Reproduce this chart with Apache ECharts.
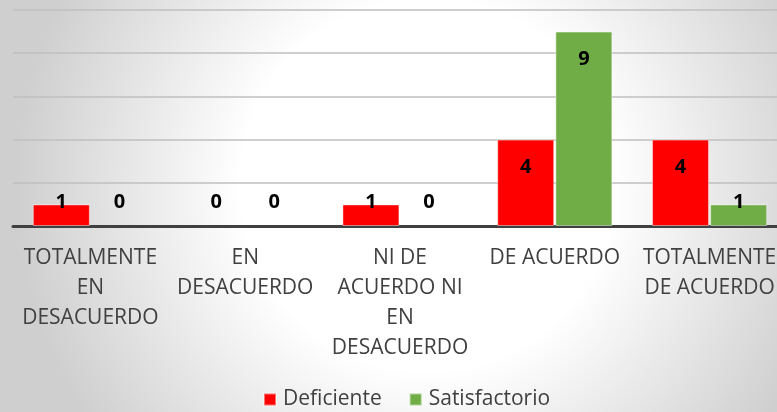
<!DOCTYPE html>
<html>
<head>
<meta charset="utf-8">
<style>
html, body { margin: 0; padding: 0; }
#chart { width: 777px; height: 412px; }
</style>
<script src="https://cdn.jsdelivr.net/npm/echarts@6/dist/echarts.min.js"></script>
</head>
<body>
<div id="chart"></div>
<script>
var categories = ['TOTALMENTE\nEN\nDESACUERDO', 'EN\nDESACUERDO', 'NI DE\nACUERDO NI\nEN\nDESACUERDO', 'DE ACUERDO', 'TOTALMENTE\nDE ACUERDO'];
var deficiente = [1, 0, 1, 4, 4];
var satisfactorio = [0, 0, 0, 9, 1];
var seriesNames = ['Deficiente', 'Satisfactorio'];
var colors = ['#ff0000', '#70ad47'];

var font = '"Open Sans", sans-serif';

// small bars get their label near the baseline, like the original
function withLabels(values) {
	return values.map(function (v) {
		var item = { value: v };
		if (v <= 1) {
			item.label = { position: 'insideBottom', distance: 14 };
		}
		if (v === 0) {
			item.itemStyle = { borderWidth: 0 };
		}
		return item;
	});
}

var chart = echarts.init(document.getElementById('chart'));

var option = {
	backgroundColor: {
		type: 'radial', x: 0.55, y: 0.45, r: 1.0,
		colorStops: [
			{ offset: 0, color: '#ffffff' },
			{ offset: 0.45, color: '#ffffff' },
			{ offset: 1, color: '#cfcfcf' }
		]
	},
	color: colors,
	animation: false,
	grid: { left: 13, right: -10, top: 10, bottom: 186, outerBoundsMode: 'none' },
	legend: {
		bottom: -3,
		left: 258,
		itemWidth: 12,
		itemHeight: 12,
		itemGap: 27,
		icon: 'rect',
		textStyle: { color: '#404040', fontSize: 21, fontFamily: font, padding: [0, 0, 0, 2] },
		data: seriesNames
	},
	xAxis: {
		type: 'category',
		data: categories,
		axisLine: { lineStyle: { color: '#404040', width: 3 } },
		axisTick: { show: false },
		axisLabel: {
			color: '#404040', fontSize: 21, fontFamily: font,
			lineHeight: 30, margin: 17, interval: 0
		}
	},
	yAxis: {
		type: 'value',
		min: 0,
		max: 10,
		interval: 2,
		axisLabel: { show: false },
		axisLine: { show: false },
		axisTick: { show: false },
		splitLine: { lineStyle: { color: '#bfbfbf', width: 1.5 } }
	},
	series: [
		{
			name: seriesNames[0],
			type: 'bar',
			barWidth: 57,
			barGap: '2%',
			itemStyle: { color: colors[0], borderColor: 'rgba(255,255,255,0.45)', borderWidth: 1 },
			label: {
				show: true, position: 'insideTop', distance: 18,
				color: '#000', fontSize: 20, fontWeight: 'bold', fontFamily: font
			},
			data: withLabels(deficiente)
		},
		{
			name: seriesNames[1],
			type: 'bar',
			barWidth: 57,
			itemStyle: { color: colors[1], borderColor: 'rgba(255,255,255,0.45)', borderWidth: 1 },
			label: {
				show: true, position: 'insideTop', distance: 18,
				color: '#000', fontSize: 20, fontWeight: 'bold', fontFamily: font
			},
			data: withLabels(satisfactorio)
		}
	]
};

chart.setOption(option);
</script>
</body>
</html>
